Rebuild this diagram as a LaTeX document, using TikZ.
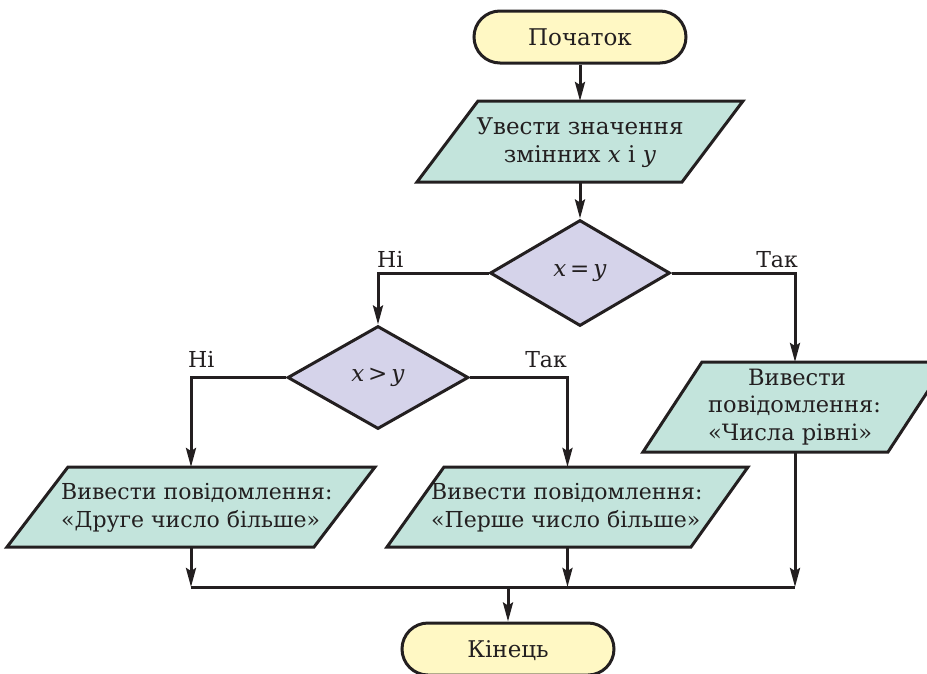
\documentclass[tikz,border=0pt]{standalone}
\usepackage{fontspec}
\setmainfont{DejaVu Serif}
\usetikzlibrary{arrows.meta,backgrounds,shapes.geometric}

\definecolor{lineC}{HTML}{231F20}
\definecolor{termC}{HTML}{FFF8C4}
\definecolor{ioC}{HTML}{C3E4DC}
\definecolor{decC}{HTML}{D5D3EA}

\tikzset{
  outline/.style={line width=3pt, draw=lineC, line join=miter},
  term/.style={outline, fill=termC, rounded corners=26pt, minimum width=212pt,
    minimum height=52pt, inner sep=0pt, text depth=0pt, text=lineC,
    font=\fontsize{23}{26}\selectfont},
  iobox/.style={inner sep=0pt, outer sep=0pt},
  txt/.style={font=\fontsize{23}{28}\selectfont, inner sep=0pt, text=lineC},
  smalltxt/.style={txt, font=\fontsize{22}{28}\selectfont},
  dec/.style={outline, fill=decC, diamond, inner sep=0pt, text=lineC,
    font=\fontsize{23}{26}\selectfont},
  lbl/.style={font=\fontsize{22}{26}\selectfont, inner sep=0pt, text=lineC},
  wire/.style={line width=3pt, draw=lineC},
  conn/.style={wire, -{Stealth[length=19pt,width=10pt,inset=3pt]}}
}

\begin{document}
\begin{tikzpicture}[x=1pt,y=-1pt]
\useasboundingbox (0,0) rectangle (927,673);

% nodes
\node[term] (start) at (580,37) {Початок};
\node[iobox, minimum width=326pt, minimum height=81pt] (p1) at (580,141.5) {};
\node[txt, align=center] (p1t) at (580,143) {Увести значення\\змінних \textit{x} і \textit{y}};
\node[dec, minimum width=180pt, minimum height=106pt] (d1) at (580,273) {\textit{x}\,=\,\textit{y}};
\node[dec, minimum width=181pt, minimum height=103pt] (d2) at (378,377.5) {\textit{x}\,>\,\textit{y}};
\node[iobox, minimum width=304pt, minimum height=90pt] (p3) at (795,407) {};
\node[txt, align=left, anchor=west, font=\fontsize{22.5}{27.5}\selectfont] (p3t) at (708,407)
  {\hspace*{40pt}Вивести\\повідомлення:\\«Числа рівні»};
\node[iobox, minimum width=368pt, minimum height=80pt] (pL) at (191,507) {};
\node[smalltxt, align=left, anchor=west] (pLt) at (61,508) {Вивести повідомлення:\\«Друге число більше»};
\node[iobox, minimum width=361pt, minimum height=80pt] (pM) at (567.5,507) {};
\node[smalltxt, align=left, anchor=west] (pMt) at (431,508) {Вивести повідомлення:\\«Перше число більше»};
\node[term] (end) at (508,649) {Кінець};

% parallelogram outlines
\begin{scope}[on background layer]
\foreach \n/\s in {p1/61,p3/59,pL/61,pM/57}
  \draw[outline, fill=ioC] ([xshift=\s pt]\n.north west) -- (\n.north east)
     -- ([xshift=-\s pt]\n.south east) -- (\n.south west) -- cycle;
\end{scope}

% labels
\node[lbl, anchor=base west] (n1) at (377,267) {Ні};
\node[lbl, anchor=base east] (t1) at (798,267) {Так};
\node[lbl, anchor=base west] (n2) at (188,367) {Ні};
\node[lbl, anchor=base east] (t2) at (567,367) {Так};

% connectors
\coordinate (bus) at (508,587);
\draw[conn] (start.south) -- (p1.north);
\draw[conn] (p1.south) -- (d1.north);
\draw[conn] (d1.west) -| (d2.north);
\draw[conn] (d1.east) -| (p3.north);
\draw[conn] (d2.west) -| (pL.north);
\draw[conn] (d2.east) -| (pM.north);
\draw[conn] (pL.south) -- (pL.south |- bus);
\draw[conn] (pM.south) -- (pM.south |- bus);
\draw[conn] (p3.south) -- (p3.south |- bus);
\draw[wire] (pL.south |- bus) -- (p3.south |- bus);
\draw[conn] (bus) -- (end.north);
\end{tikzpicture}
\end{document}
